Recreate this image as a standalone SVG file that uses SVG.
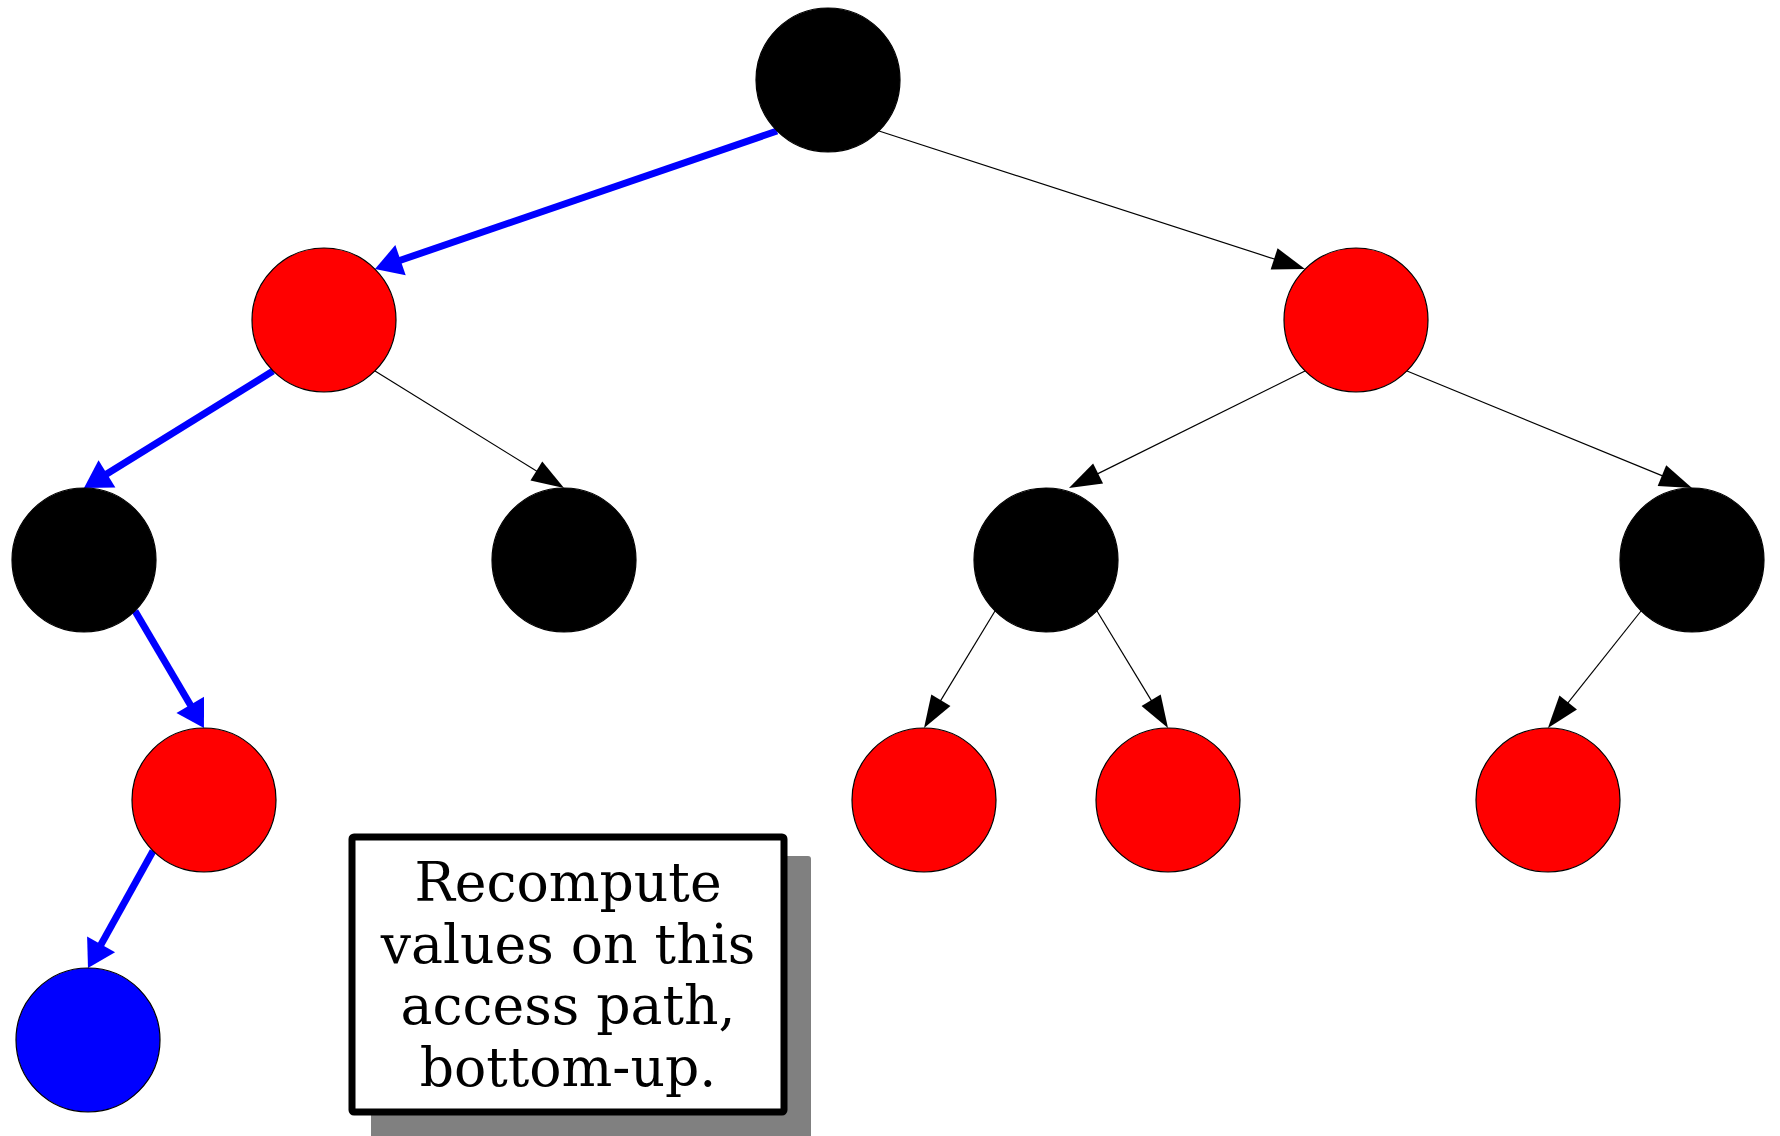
<svg xmlns="http://www.w3.org/2000/svg" width="1780" height="1136" viewBox="0 0 1780 1136">
<style>
.node{stroke:#000;stroke-width:1.2}
.red{fill:#ff0000}
.blk{fill:#000}
.blu{fill:#0000ff}
.e{fill:none;stroke:#000;stroke-width:1.2;marker-end:url(#ah)}
.b{fill:none;stroke:#0000ff;stroke-width:7;marker-end:url(#bh)}
.lbl{font-family:"DejaVu Serif","Liberation Serif",serif;font-size:53.6px;text-anchor:middle;fill:#000}
</style>
<defs>
<marker id="ah" markerUnits="userSpaceOnUse" markerWidth="40" markerHeight="30" refX="12.5" refY="0" orient="auto" overflow="visible">
<path d="M0,-11.2 L32.5,0 L0,11.2 Z" fill="#000"/>
</marker>
<marker id="bh" markerUnits="userSpaceOnUse" markerWidth="40" markerHeight="40" refX="7" refY="0" orient="auto" overflow="visible">
<path d="M0,-16 L27,0 L0,16 Z" fill="#0000ff"/>
</marker>
</defs>
<g id="connectors">
<path class="b" d="M777,131 L393.9,262.5"/>
<path class="e" d="M879,131 L1286,262.8"/>
<path class="b" d="M273,371 L101,477.5"/>
<path class="e" d="M375,371 L547,477.5"/>
<path class="b" d="M135,611 L193.8,710.8"/>
<path class="b" d="M153,851 L97.7,950.5"/>
<path class="e" d="M1305,371 L1086.9,479.1"/>
<path class="e" d="M1407,371 L1673.5,480.4"/>
<path class="e" d="M995,611 L934.4,710.9"/>
<path class="e" d="M1097,611 L1157.6,710.9"/>
<path class="e" d="M1641,611 L1560.4,712.3"/>
</g>
<g id="n-root"><circle class="node blk" cx="828" cy="80" r="72"/></g>
<g id="n-l1"><circle class="node red" cx="324" cy="320" r="72"/></g>
<g id="n-r1"><circle class="node red" cx="1356" cy="320" r="72"/></g>
<g id="n-l2a"><circle class="node blk" cx="84" cy="560" r="72"/></g>
<g id="n-l2b"><circle class="node blk" cx="564" cy="560" r="72"/></g>
<g id="n-r2a"><circle class="node blk" cx="1046" cy="560" r="72"/></g>
<g id="n-r2b"><circle class="node blk" cx="1692" cy="560" r="72"/></g>
<g id="n-l3"><circle class="node red" cx="204" cy="800" r="72"/></g>
<g id="n-r3a"><circle class="node red" cx="924" cy="800" r="72"/></g>
<g id="n-r3b"><circle class="node red" cx="1168" cy="800" r="72"/></g>
<g id="n-r3c"><circle class="node red" cx="1548" cy="800" r="72"/></g>
<g id="n-blue"><circle class="node blu" cx="88" cy="1040" r="72"/></g>
<g id="note">
<rect x="371" y="856" width="440" height="300" rx="3" fill="#808080"/>
<rect x="352" y="837" width="432" height="275" rx="2" fill="#fff" stroke="#000" stroke-width="7"/>
<text class="lbl" x="568" y="901">Recompute</text>
<text class="lbl" x="568" y="962.6">values on this</text>
<text class="lbl" x="568" y="1024.2">access path,</text>
<text class="lbl" x="568" y="1085.8">bottom-up.</text>
</g>
</svg>
